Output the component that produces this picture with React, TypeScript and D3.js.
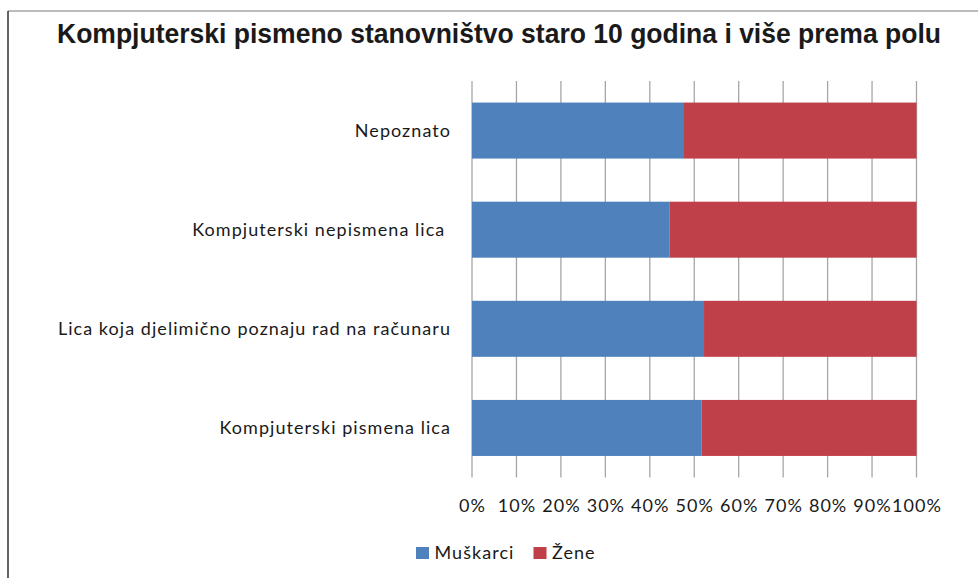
import React from "react";
import * as d3 from "d3";

const categories = [
  "Nepoznato",
  "Kompjuterski nepismena lica ",
  "Lica koja djelimično poznaju rad na računaru",
  "Kompjuterski pismena lica",
];
const muskarci = [0.475, 0.444, 0.522, 0.516];
const zene = [0.525, 0.556, 0.478, 0.484];
const seriesNames = ["Muškarci", "Žene"];
const seriesColors = ["#4F81BD", "#C0404A"];
const ticks = [0, 0.1, 0.2, 0.3, 0.4, 0.5, 0.6, 0.7, 0.8, 0.9, 1.0];
const title = "Kompjuterski pismeno stanovništvo staro 10 godina i više prema polu";

const W = 978;
const H = 578;
const labelFont = "Lato, 'Open Sans', sans-serif";
const labelSize = 18;
const labelSpacing = 1.05;

export default function App() {
  const x = d3.scaleLinear().domain([0, 1]).range([472, 916.5]);
  const y = d3.scaleBand<string>().domain(categories).range([81, 477.5]).paddingInner(0.435).paddingOuter(0.2175);
  const stack = d3.stack<number>().keys(["m", "z"]).value((i, k) => (k === "m" ? muskarci[i] : zene[i]));
  const series = stack(categories.map((_, i) => i));
  const fmt = d3.format(".0%");

  return (
    <svg width={W} height={H} style={{ position: "absolute", left: 0, top: 0, background: "#fff" }}>
      <rect x={0} y={0} width={W} height={H} fill="#fff" />
      <line x1={8} y1={11} x2={W} y2={11} stroke="#7a7a7a" strokeWidth={1.2} />
      <line x1={8} y1={11} x2={8} y2={H} stroke="#222" strokeWidth={1.4} />
      <text
        x={499}
        y={43}
        textAnchor="middle"
        fontFamily="'Liberation Sans', Arial, sans-serif"
        fontWeight="bold"
        fontSize={27}
        textLength={884}
        lengthAdjust="spacingAndGlyphs"
        fill="#1a1a1a"
      >
        {title}
      </text>
      {ticks.map((t) => (
        <line key={"g" + t} x1={x(t)} x2={x(t)} y1={81} y2={477.5} stroke="#A6A6A6" strokeWidth={1.3} />
      ))}
      {series.map((s, si) =>
        s.map((d, i) => (
          <rect
            key={si + "-" + i}
            x={x(d[0])}
            width={x(d[1]) - x(d[0])}
            y={y(categories[i])}
            height={y.bandwidth()}
            fill={seriesColors[si]}
          />
        ))
      )}
      {categories.map((c) => (
        <text
          key={c}
          x={451}
          y={(y(c) as number) + y.bandwidth() / 2}
          dy="0.35em"
          textAnchor="end"
          fontFamily={labelFont}
          fontSize={labelSize}
          letterSpacing={labelSpacing}
          fill="#1a1a1a"
          style={{ whiteSpace: "pre" }}
        >
          {c}
        </text>
      ))}
      {ticks.map((t) => (
        <text
          key={"t" + t}
          x={x(t) + labelSpacing / 2}
          y={512}
          textAnchor="middle"
          fontFamily={labelFont}
          fontSize={labelSize}
          letterSpacing={labelSpacing}
          fill="#1a1a1a"
        >
          {fmt(t)}
        </text>
      ))}
      {seriesNames.map((n, i) => {
        const lx = [416, 533.5][i];
        return (
          <g key={n}>
            <rect x={lx} y={547} width={13} height={12} fill={seriesColors[i]} />
            <text
              x={lx + 18.5}
              y={559}
              fontFamily={labelFont}
              fontSize={labelSize}
              letterSpacing={labelSpacing}
              fill="#1a1a1a"
            >
              {n}
            </text>
          </g>
        );
      })}
    </svg>
  );
}
